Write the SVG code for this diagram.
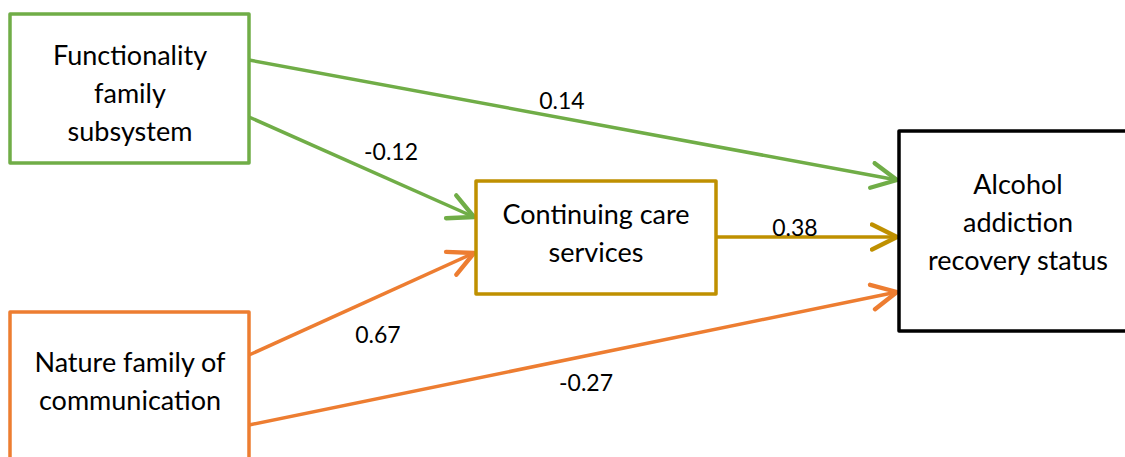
<svg xmlns="http://www.w3.org/2000/svg" width="1125" height="457" viewBox="0 0 1125 457">
<defs>
<style>
.box{fill:#fff;stroke-width:3.5;stroke-linejoin:round}
.t{font-family:Lato,"Open Sans",sans-serif;font-size:27px;fill:#000;text-anchor:middle}
.l{font-family:Lato,"Open Sans",sans-serif;font-size:23px;fill:#000;text-anchor:middle}
.c{fill:none;stroke-width:3.5}
</style>
<marker id="ag" markerUnits="userSpaceOnUse" markerWidth="30" markerHeight="30" refX="22" refY="12" orient="auto" viewBox="0 0 24 24"><path d="M2 2 L22 12 L2 22" fill="none" stroke="#70AD47" stroke-width="3.5" stroke-linecap="round" stroke-linejoin="round"/></marker>
<marker id="ay" markerUnits="userSpaceOnUse" markerWidth="30" markerHeight="30" refX="22" refY="12" orient="auto" viewBox="0 0 24 24"><path d="M2 2 L22 12 L2 22" fill="none" stroke="#BF9000" stroke-width="3.5" stroke-linecap="round" stroke-linejoin="round"/></marker>
<marker id="ao" markerUnits="userSpaceOnUse" markerWidth="30" markerHeight="30" refX="22" refY="12" orient="auto" viewBox="0 0 24 24"><path d="M2 2 L22 12 L2 22" fill="none" stroke="#ED7D31" stroke-width="3.5" stroke-linecap="round" stroke-linejoin="round"/></marker>
</defs>
<rect width="1125" height="457" fill="#fff"/>
<g id="connectors">
<line class="c" x1="249" y1="60" x2="897" y2="180" stroke="#70AD47" marker-end="url(#ag)"/>
<line class="c" x1="249" y1="117" x2="474" y2="217" stroke="#70AD47" marker-end="url(#ag)"/>
<line class="c" x1="716" y1="237" x2="897" y2="237" stroke="#BF9000" marker-end="url(#ay)"/>
<line class="c" x1="249" y1="355" x2="474" y2="253" stroke="#ED7D31" marker-end="url(#ao)"/>
<line class="c" x1="249" y1="425" x2="897" y2="292" stroke="#ED7D31" marker-end="url(#ao)"/>
<text class="l" x="562" y="109">0.14</text>
<text class="l" x="391" y="160">-0.12</text>
<text class="l" x="795" y="236">0.38</text>
<text class="l" x="378" y="343">0.67</text>
<text class="l" x="586" y="391">-0.27</text>
</g>
<g id="functionality">
<rect class="box" x="10" y="14" width="239" height="149" stroke="#70AD47"/>
<text class="t" x="130" y="65">Functionality</text>
<text class="t" x="130" y="103">family</text>
<text class="t" x="130" y="141">subsystem</text>
</g>
<g id="continuing">
<rect class="box" x="476" y="181" width="240" height="113" stroke="#BF9000"/>
<text class="t" x="596" y="224">Continuing care</text>
<text class="t" x="596" y="262">services</text>
</g>
<g id="nature">
<rect class="box" x="10" y="312" width="239" height="160" stroke="#ED7D31"/>
<text class="t" x="130" y="372">Nature family of</text>
<text class="t" x="130" y="410">communication</text>
</g>
<g id="recovery">
<rect class="box" x="899" y="131" width="240" height="200" stroke="#000"/>
<text class="t" x="1018" y="194">Alcohol</text>
<text class="t" x="1018" y="232">addiction</text>
<text class="t" x="1018" y="270">recovery status</text>
</g>
</svg>
